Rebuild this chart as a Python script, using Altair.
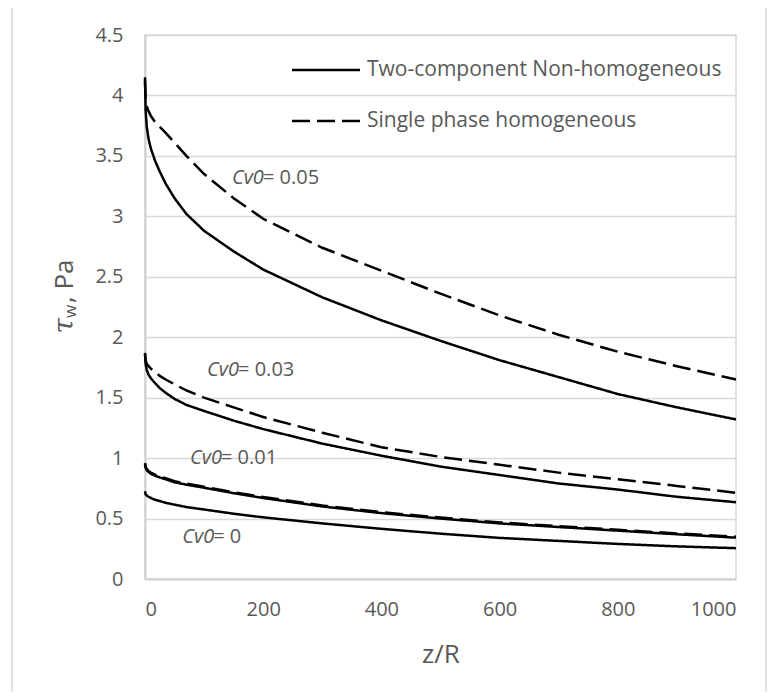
import altair as alt
import pandas as pd

# ---- data ----
z_pts = [0, 1, 3, 6, 10, 17, 25, 35, 50, 70, 100, 150, 200, 300, 400, 500, 600, 700, 800, 900, 1000]

two_comp_005 = [4.15, 3.88, 3.74, 3.64, 3.56, 3.46, 3.37, 3.27, 3.15, 3.02, 2.88, 2.71, 2.56,
                2.33, 2.14, 1.97, 1.81, 1.67, 1.53, 1.42, 1.32]
single_005 = [4.12, 3.98, 3.91, 3.87, 3.83, 3.78, 3.74, 3.69, 3.61, 3.50, 3.35, 3.15, 2.98,
              2.74, 2.55, 2.36, 2.18, 2.02, 1.88, 1.76, 1.65]
two_comp_003 = [1.87, 1.78, 1.73, 1.69, 1.66, 1.62, 1.58, 1.54, 1.49, 1.44, 1.39, 1.31, 1.24,
                1.12, 1.02, 0.93, 0.86, 0.79, 0.74, 0.68, 0.635]
single_003 = [1.86, 1.81, 1.78, 1.76, 1.74, 1.71, 1.68, 1.65, 1.61, 1.56, 1.50, 1.42, 1.34,
              1.21, 1.09, 1.01, 0.945, 0.88, 0.825, 0.77, 0.713]
two_comp_001 = [0.95, 0.92, 0.90, 0.885, 0.87, 0.855, 0.84, 0.825, 0.80, 0.78, 0.755, 0.71, 0.67,
                0.60, 0.545, 0.50, 0.46, 0.43, 0.40, 0.37, 0.342]
single_001 = [0.96, 0.93, 0.91, 0.894, 0.879, 0.864, 0.849, 0.834, 0.809, 0.789, 0.763, 0.718, 0.678,
              0.608, 0.553, 0.508, 0.468, 0.437, 0.407, 0.377, 0.35]
two_comp_000 = [0.726, 0.70, 0.69, 0.68, 0.67, 0.655, 0.645, 0.63, 0.615, 0.595, 0.575, 0.54, 0.51,
                0.46, 0.415, 0.375, 0.34, 0.315, 0.29, 0.27, 0.255]

models = ["Two-component Non-homogeneous", "Single phase homogeneous"]

series = [
    ("0.05", models[0], two_comp_005),
    ("0.05", models[1], single_005),
    ("0.03", models[0], two_comp_003),
    ("0.03", models[1], single_003),
    ("0.01", models[0], two_comp_001),
    ("0.01", models[1], single_001),
    ("0", models[0], two_comp_000),
]

label_cv = ["= 0.05", "= 0.03", "= 0.01", "= 0"]
label_z = [147, 105, 76, 63]
label_tau = [3.32, 1.725, 1.005, 0.35]

x_ticks = [0, 200, 400, 600, 800, 1000]
y_ticks = [0, 0.5, 1, 1.5, 2, 2.5, 3, 3.5, 4, 4.5]

rows = []
for cv, model, vals in series:
    for z, t in zip(z_pts, vals):
        rows.append({"z": z, "tau": t, "series": cv + "|" + model, "model": model})
df = pd.DataFrame(rows)

lab_df = pd.DataFrame({"z": label_z, "tau": label_tau, "val": label_cv, "cv": ["Cv0"] * 4})

FONT = "Open Sans"
GREY = "#595959"

xscale = alt.Scale(domain=[0, 1000], nice=False, zero=False)
yscale = alt.Scale(domain=[0, 4.5], nice=False)

lines = alt.Chart(df).mark_line(color="black", strokeWidth=2.5).encode(
    x=alt.X("z:Q", scale=xscale,
            axis=alt.Axis(values=x_ticks, title="z/R", grid=False, ticks=False, tickSize=0,
                          labelPadding=20, labelFontSize=20, labelColor=GREY, labelFont=FONT,
                          titleFontSize=26, titleFont=FONT, titleColor=GREY, titleFontWeight="normal",
                          titlePadding=22, domainColor="#d0d0d0", domainWidth=2,
                          labelExpr="datum.value")),
    y=alt.Y("tau:Q", scale=yscale,
            axis=alt.Axis(values=y_ticks, title=None, grid=True, gridColor="#d9d9d9", gridWidth=1.5,
                          ticks=False, tickSize=0, labelPadding=22, labelFontSize=20,
                          labelColor=GREY, labelFont=FONT, domainColor="#d0d0d0", domainWidth=2,
                          labelExpr="datum.value")),
    detail="series:N",
    strokeDash=alt.StrokeDash("model:N", scale=alt.Scale(domain=models, range=[[1, 0], [18, 7]]),
                              legend=None),
)

cv_text = alt.Chart(lab_df).mark_text(align="left", baseline="middle", fontSize=20, font=FONT,
                                      fontStyle="italic", color=GREY).encode(
    x=alt.X("z:Q", scale=xscale), y=alt.Y("tau:Q", scale=yscale), text="cv:N")
val_text = alt.Chart(lab_df).mark_text(align="left", baseline="middle", fontSize=20, font=FONT,
                                       dx=31, color=GREY).encode(
    x=alt.X("z:Q", scale=xscale), y=alt.Y("tau:Q", scale=yscale), text="val:N")

one = alt.Data(values=[{"a": 1}])

leg_solid = alt.Chart(one).mark_rule(color="black", strokeWidth=2.5).encode(
    x=alt.value(147), x2=alt.value(215), y=alt.value(35))
leg_dash = alt.Chart(one).mark_rule(color="black", strokeWidth=2.5, strokeDash=[18, 7]).encode(
    x=alt.value(147), x2=alt.value(215), y=alt.value(86))
leg_text = alt.Chart(pd.DataFrame({"m": models, "yy": [35, 86]})).mark_text(
    align="left", baseline="middle", fontSize=21, font=FONT, color=GREY).encode(
    x=alt.value(222), y=alt.Y("yy:Q", scale=None), text="m:N")

# y axis title as text: tau with subscript w
ytitle_tau = alt.Chart(one).mark_text(text="τ", angle=270, align="right", baseline="middle",
                                      fontSize=28, font="DejaVu Serif", fontStyle="italic", color=GREY).encode(
    x=alt.value(-80), y=alt.value(283))
ytitle_w = alt.Chart(one).mark_text(text="w", angle=270, align="left", baseline="middle",
                                    fontSize=17, font=FONT, color=GREY).encode(
    x=alt.value(-74), y=alt.value(283))
ytitle_pa = alt.Chart(one).mark_text(text=", Pa", angle=270, align="left", baseline="middle",
                                     fontSize=26, font=FONT, color=GREY).encode(
    x=alt.value(-80), y=alt.value(268))

# chart-area frame (its bottom edge falls outside the picture, as in the reference)
border = alt.Chart(one).mark_rect(fill=None, stroke="#d9d9d9", strokeWidth=1.5).encode(
    x=alt.value(-133), x2=alt.value(621), y=alt.value(-29), y2=alt.value(700))

chart = alt.layer(
    border, lines, cv_text, val_text, leg_solid, leg_dash, leg_text, ytitle_tau, ytitle_w, ytitle_pa
).properties(
    width=591, height=544,
    padding={"left": 137, "top": 27, "right": 32, "bottom": 113},
    autosize=alt.AutoSizeParams(type="none"),
    background="white",
).configure_view(stroke="#d9d9d9", strokeWidth=1.5)

chart.save("out.html", embed_options={"renderer": "svg", "actions": False})
